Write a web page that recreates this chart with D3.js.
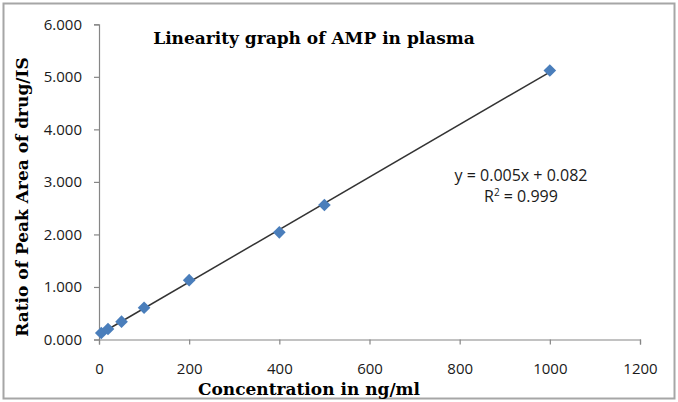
<!DOCTYPE html>
<html lang="en">
<head>
<meta charset="UTF-8">
<title>Linearity graph of AMP in plasma</title>
<style>
    body {
        margin: 0;
        padding: 0;
        background-color: #fff;
    }
    .tick-label {
        font-family: "Open Sans", sans-serif;
        font-size: 15px;
        fill: #1a1a1a;
    }
    .eq-label {
        font-family: "Open Sans", sans-serif;
        font-size: 16px;
        fill: #1a1a1a;
    }
    .axis-title {
        font-family: "DejaVu Serif", serif;
        font-weight: bold;
        font-size: 17px;
        fill: #000;
    }
</style>
</head>
<body>
<svg id="chart" width="678" height="402"></svg>

<script src="https://d3js.org/d3.v7.min.js"></script>
<script>
    // 数据
    var conc = [5, 20, 50, 100, 200, 400, 500, 1000];
    var ratio = [0.124, 0.20, 0.34, 0.605, 1.13, 2.04, 2.56, 5.12];
    var xTicks = [0, 200, 400, 600, 800, 1000, 1200];
    var yTicks = [0, 1, 2, 3, 4, 5, 6];
    var equationText = "y = 0.005x + 0.082";
    var r2Text = "0.999";

    const svg = d3.select("#chart");

    // 外框
    svg.append("rect")
        .attr("x", 3.5).attr("y", 3.5)
        .attr("width", 671).attr("height", 395)
        .attr("fill", "none")
        .attr("stroke", "#a6a6a6")
        .attr("stroke-width", 2);

    // 比例尺
    const xScale = d3.scaleLinear().domain([0, 1200]).range([99, 640]);
    const yScale = d3.scaleLinear().domain([0, 6]).range([339.5, 24.3]);

    // x 轴
    const xAxis = svg.append("g")
        .attr("transform", "translate(0," + yScale(0) + ")")
        .call(d3.axisBottom(xScale).tickValues(xTicks).tickSize(5).tickPadding(19).tickFormat(d3.format("d")));
    xAxis.selectAll("path, line").attr("stroke", "#868686").attr("stroke-width", 1.2);
    xAxis.selectAll("text").attr("class", "tick-label").attr("font-size", null).attr("font-family", null).attr("fill", null);

    // y 轴
    const yAxis = svg.append("g")
        .attr("transform", "translate(" + xScale(0) + ",0)")
        .call(d3.axisLeft(yScale).tickValues(yTicks).tickSize(5).tickPadding(12).tickFormat(d3.format(".3f")));
    yAxis.selectAll("path, line").attr("stroke", "#868686").attr("stroke-width", 1.2);
    yAxis.selectAll("text").attr("class", "tick-label").attr("font-size", null).attr("font-family", null).attr("fill", null);

    // 最小二乘法趋势线
    var n = conc.length;
    var sumX = d3.sum(conc), sumY = d3.sum(ratio);
    var sumXY = d3.sum(conc, (d, i) => d * ratio[i]);
    var sumXX = d3.sum(conc, d => d * d);
    var slope = (n * sumXY - sumX * sumY) / (n * sumXX - sumX * sumX);
    var intercept = (sumY - slope * sumX) / n;
    var xMin = d3.min(conc), xMax = d3.max(conc);

    svg.append("line")
        .attr("x1", xScale(xMin)).attr("y1", yScale(intercept + slope * xMin))
        .attr("x2", xScale(xMax)).attr("y2", yScale(intercept + slope * xMax))
        .attr("stroke", "#333")
        .attr("stroke-width", 1.5);

    // 数据点 (菱形)
    const diamond = d3.symbol().type(d3.symbolSquare).size(80);
    svg.selectAll(".pt")
        .data(conc)
        .enter().append("path")
        .attr("class", "pt")
        .attr("d", diamond)
        .attr("transform", (d, i) => "translate(" + xScale(d) + "," + yScale(ratio[i]) + ") rotate(45)")
        .attr("fill", "#4a7ebb");

    // 方程
    svg.append("text")
        .attr("class", "eq-label")
        .attr("x", 521).attr("y", 181)
        .attr("text-anchor", "middle")
        .text(equationText);
    const r2 = svg.append("text")
        .attr("class", "eq-label")
        .attr("x", 521).attr("y", 202)
        .attr("text-anchor", "middle");
    r2.append("tspan").text("R");
    r2.append("tspan").attr("dy", -6).attr("font-size", "10px").text("2");
    r2.append("tspan").attr("dy", 6).text(" = " + r2Text);

    // 标题
    svg.append("text")
        .attr("class", "axis-title")
        .attr("x", 314).attr("y", 44)
        .attr("text-anchor", "middle")
        .text("Linearity graph of AMP in plasma");

    svg.append("text")
        .attr("class", "axis-title")
        .attr("x", 309).attr("y", 395)
        .attr("text-anchor", "middle")
        .text("Concentration in ng/ml");

    svg.append("text")
        .attr("class", "axis-title")
        .attr("transform", "translate(28,197) rotate(-90)")
        .attr("text-anchor", "middle")
        .text("Ratio of Peak Area of drug/IS");
</script>
</body>
</html>
